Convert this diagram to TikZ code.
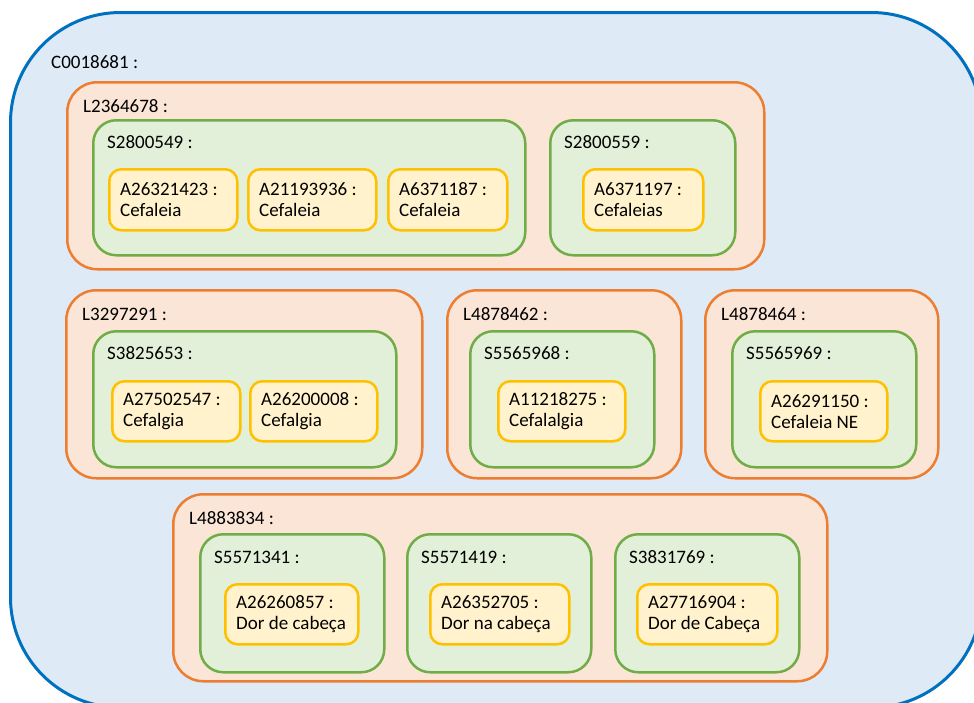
\documentclass[tikz,border=0pt]{standalone}
\usepackage{fontspec}
\setmainfont{Carlito}
\definecolor{bluefill}{HTML}{DEEBF7}
\definecolor{blueline}{HTML}{0070C0}
\definecolor{orangefill}{HTML}{FBE5D6}
\definecolor{orangeline}{HTML}{ED7D31}
\definecolor{greenfill}{HTML}{E2F0D9}
\definecolor{greenline}{HTML}{70AD47}
\definecolor{yellowfill}{HTML}{FFF2CC}
\definecolor{yellowline}{HTML}{FFC000}
\begin{document}
\begin{tikzpicture}[x=1pt,y=-1pt,
  every node/.style={font=\fontsize{19}{21}\selectfont},
  concept/.style={draw=blueline,fill=bluefill,line width=3pt,rounded corners=110pt,
    inner sep=0pt,anchor=north west},
  lexbox/.style={draw=orangeline,fill=orangefill,line width=2.5pt,rounded corners=30pt,
    inner sep=0pt,anchor=north west},
  strbox/.style={draw=greenline,fill=greenfill,line width=2.5pt,rounded corners=23pt,
    inner sep=0pt,anchor=north west},
  atombox/.style={draw=yellowline,fill=yellowfill,line width=2.5pt,rounded corners=12pt,
    inner sep=0pt,anchor=north west,minimum height=60pt},
  tag/.style={inner sep=0pt,anchor=west},
  atomtext/.style={inner sep=0pt,anchor=west,align=left}]
\useasboundingbox (0,0) rectangle (974,702);
\clip (0,0) rectangle (974,702);

% concept
\node[concept,minimum width=971pt,minimum height=695pt] (C) at (9,11) {};
\node[tag] (Ct) at ([shift={(42,51)}]C.north west) {C0018681 :};

% lexical group L2364678
\node[lexbox,minimum width=697pt,minimum height=187pt] (L1) at (66,81) {};
\node[tag] (L1t) at ([shift={(17,25)}]L1.north west) {L2364678 :};
\node[strbox,minimum width=432pt,minimum height=135pt] (S1) at (92,119) {};
\node[tag] (S1t) at ([shift={(15,23)}]S1.north west) {S2800549 :};
\node[atombox,minimum width=128pt,minimum height=61pt] (A1) at (108,168) {};
\node[atomtext] (A1t) at ([xshift=12pt]A1.west) {A26321423 :\\Cefaleia};
\node[atombox,minimum width=128pt,minimum height=61pt] (A2) at (247,168) {};
\node[atomtext] (A2t) at ([xshift=12pt]A2.west) {A21193936 :\\Cefaleia};
\node[atombox,minimum width=119pt,minimum height=61pt] (A3) at (387,168) {};
\node[atomtext] (A3t) at ([xshift=12pt]A3.west) {A6371187 :\\Cefaleia};
\node[strbox,minimum width=185pt,minimum height=135pt] (S2) at (549,119) {};
\node[tag] (S2t) at ([shift={(15,23)}]S2.north west) {S2800559 :};
\node[atombox,minimum width=120pt,minimum height=61pt] (A4) at (582,168) {};
\node[atomtext] (A4t) at ([xshift=12pt]A4.west) {A6371197 :\\Cefaleias};

% lexical group L3297291
\node[lexbox,minimum width=356pt,minimum height=188pt] (L2) at (65,289) {};
\node[tag] (L2t) at ([shift={(17,25)}]L2.north west) {L3297291 :};
\node[strbox,minimum width=303pt,minimum height=136pt] (S3) at (92,330) {};
\node[tag] (S3t) at ([shift={(15,23)}]S3.north west) {S3825653 :};
\node[atombox,minimum width=128pt] (A5) at (111,380) {};
\node[atomtext] (A5t) at ([xshift=12pt]A5.west) {A27502547 :\\Cefalgia};
\node[atombox,minimum width=127pt] (A6) at (249,380) {};
\node[atomtext] (A6t) at ([xshift=12pt]A6.west) {A26200008 :\\Cefalgia};

% lexical group L4878462
\node[lexbox,minimum width=234pt,minimum height=188pt] (L3) at (446,289) {};
\node[tag] (L3t) at ([shift={(17,25)}]L3.north west) {L4878462 :};
\node[strbox,minimum width=184pt,minimum height=136pt] (S4) at (469,330) {};
\node[tag] (S4t) at ([shift={(15,23)}]S4.north west) {S5565968 :};
\node[atombox,minimum width=127pt] (A7) at (497,380) {};
\node[atomtext] (A7t) at ([xshift=12pt]A7.west) {A11218275 :\\Cefalalgia};

% lexical group L4878464
\node[lexbox,minimum width=233pt,minimum height=188pt] (L4) at (704,289) {};
\node[tag] (L4t) at ([shift={(17,25)}]L4.north west) {L4878464 :};
\node[strbox,minimum width=184pt,minimum height=136pt] (S5) at (731,330) {};
\node[tag] (S5t) at ([shift={(15,23)}]S5.north west) {S5565969 :};
\node[atombox,minimum width=127pt] (A8) at (759,380) {};
\node[atomtext] (A8t) at ([xshift=12pt]A8.west) {A26291150 :\\Cefaleia NE};

% lexical group L4883834
\node[lexbox,minimum width=654pt,minimum height=187pt] (L5) at (172,493) {};
\node[tag] (L5t) at ([shift={(17,25)}]L5.north west) {L4883834 :};
\node[strbox,minimum width=184pt,minimum height=138pt] (S6) at (199,533) {};
\node[tag] (S6t) at ([shift={(15,24)}]S6.north west) {S5571341 :};
\node[atombox,minimum width=133pt] (A9) at (224,583) {};
\node[atomtext] (A9t) at ([xshift=12pt]A9.west) {A26260857 :\\Dor de cabeça};
\node[strbox,minimum width=184pt,minimum height=138pt] (S7) at (406,533) {};
\node[tag] (S7t) at ([shift={(15,24)}]S7.north west) {S5571419 :};
\node[atombox,minimum width=139pt] (A10) at (429,583) {};
\node[atomtext] (A10t) at ([xshift=12pt]A10.west) {A26352705 :\\Dor na cabeça};
\node[strbox,minimum width=184pt,minimum height=138pt] (S8) at (614,533) {};
\node[tag] (S8t) at ([shift={(15,24)}]S8.north west) {S3831769 :};
\node[atombox,minimum width=140pt] (A11) at (636,583) {};
\node[atomtext] (A11t) at ([xshift=12pt]A11.west) {A27716904 :\\Dor de Cabeça};
\end{tikzpicture}
\end{document}
